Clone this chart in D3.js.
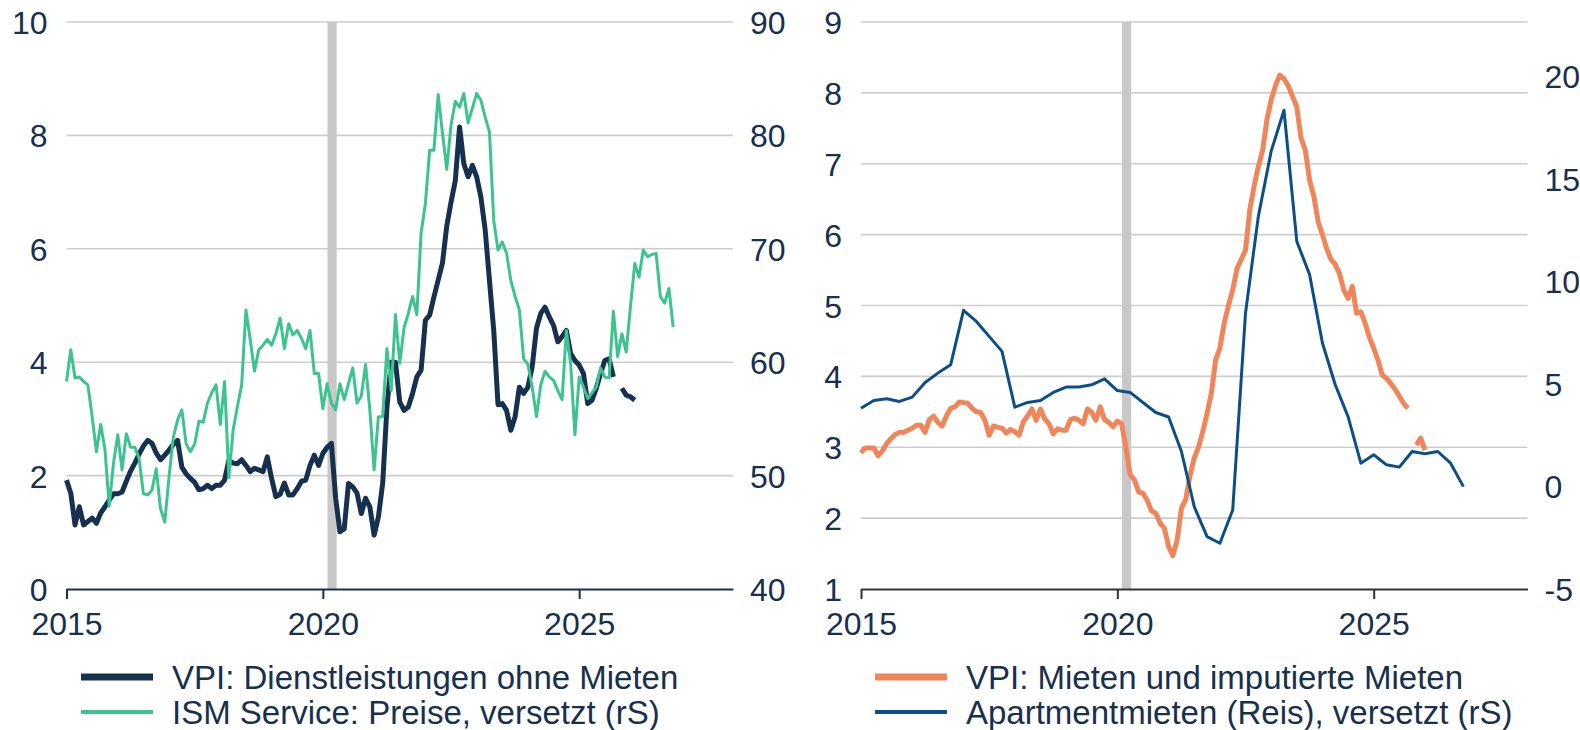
<!DOCTYPE html>
<meta charset="utf-8">
<style>
body { margin: 0; background: #fff; }
svg { font-family: "Liberation Sans", Arial, sans-serif; }
.tick text { fill: #17304e; font-size: 32px; }
.legend text { fill: #17304e; font-size: 33px; }
.grid line { stroke: #cdcdcd; stroke-width: 1.6; }
.line { fill: none; stroke-linejoin: round; }
</style>
<svg width="1580" height="730"></svg>
<script src="https://cdn.jsdelivr.net/npm/d3@7"></script>
<script>
// monatlich ab Jan 2015
var dienstleistungen = [
  1.92, 1.69, 1.13, 1.45, 1.13, 1.19, 1.25, 1.16, 1.34, 1.45, 1.57, 1.68,
  1.68, 1.71, 1.90, 2.08, 2.22, 2.38, 2.52, 2.62, 2.57, 2.40, 2.28, 2.36,
  2.45, 2.55, 2.62, 2.15, 2.03, 1.95, 1.88, 1.75, 1.77, 1.83, 1.77, 1.83,
  1.83, 1.92, 2.27, 2.22, 2.21, 2.28, 2.18, 2.07, 2.13, 2.10, 2.07, 2.33,
  1.95, 1.63, 1.67, 1.87, 1.66, 1.66, 1.77, 1.90, 1.92, 2.18, 2.36, 2.18,
  2.39, 2.50, 2.57, 1.60, 1.01, 1.06, 1.86, 1.80, 1.69, 1.33, 1.60, 1.45,
  0.95, 1.27, 1.86, 3.20, 4.00, 4.00, 3.30, 3.15, 3.21, 3.45, 3.74, 3.86,
  4.74, 4.83, 5.15, 5.45, 5.75, 6.40, 6.82, 7.20, 8.15, 7.50, 7.27, 7.47,
  7.27, 6.91, 6.33, 5.44, 4.56, 3.25, 3.27, 3.15, 2.80, 3.04, 3.56, 3.45,
  3.56, 3.92, 4.60, 4.86, 4.97, 4.80, 4.65, 4.36, 4.45, 4.56, 4.15, 4.03,
  3.95, 3.80, 3.27, 3.33, 3.54, 3.80, 4.03, 4.06, 3.74, null, 3.54, 3.42,
  3.39, 3.33
];
var ismPreise = [
  58.3, 61.1, 58.6, 58.7, 58.3, 58.0, 55.2, 52.1, 54.5, 52.3, 47.3, 51.1,
  53.6, 50.5, 53.7, 52.5, 52.5, 51.5, 48.4, 48.3, 48.7, 50.6, 47.1, 45.9,
  49.9, 53.4, 54.9, 55.8, 52.8, 52.1, 52.8, 54.8, 54.7, 56.4, 57.3, 58.0,
  54.5, 58.3, 49.8, 54.0, 56.1, 58.0, 64.6, 62.0, 59.2, 61.1, 61.5, 62.0,
  61.5, 62.5, 63.9, 61.2, 63.4, 62.4, 62.8, 62.1, 61.2, 62.8, 59.0, 59.0,
  55.9, 58.1, 56.4, 55.8, 58.1, 56.7, 58.1, 59.5, 56.4, 57.0, 59.8, 55.8,
  50.5, 55.2, 55.2, 61.2, 57.5, 64.2, 59.9, 63.0, 64.3, 65.8, 64.2, 71.4,
  74.0, 78.7, 78.7, 83.6, 80.2, 77.0, 80.9, 83.0, 82.5, 83.7, 81.1, 82.4,
  83.7, 83.1, 81.6, 80.3, 72.5, 69.9, 70.6, 69.6, 67.2, 65.8, 64.6, 60.3,
  59.8, 57.8, 55.2, 58.0, 59.2, 58.7, 58.4, 57.5, 56.7, 62.8, 59.9, 53.6,
  58.7, 57.8, 56.8, 57.3, 57.8, 59.5, 58.7, 58.6, 64.5, 60.5, 62.5, 60.9,
  64.9, 68.7, 67.5, 69.9, 69.3, 69.5, 69.6, 65.8, 65.2, 66.5, 63.1
];
var mieten = [
  2.92, 2.99, 2.99, 2.99, 2.88, 2.95, 3.05, 3.12, 3.18, 3.21, 3.21, 3.24,
  3.27, 3.31, 3.31, 3.21, 3.39, 3.44, 3.35, 3.30, 3.44, 3.55, 3.57, 3.64,
  3.63, 3.62, 3.55, 3.50, 3.49, 3.38, 3.17, 3.30, 3.28, 3.27, 3.20, 3.25,
  3.22, 3.17, 3.36, 3.44, 3.54, 3.38, 3.54, 3.40, 3.33, 3.19, 3.26, 3.24,
  3.24, 3.39, 3.41, 3.38, 3.33, 3.54, 3.49, 3.38, 3.57, 3.39, 3.35, 3.29,
  3.37, 3.33, 3.00, 2.61, 2.54, 2.37, 2.35, 2.25, 2.10, 2.07, 1.93, 1.86,
  1.60, 1.47, 1.69, 2.14, 2.26, 2.60, 2.85, 3.00, 3.22, 3.48, 3.76, 4.23,
  4.40, 4.75, 5.00, 5.22, 5.52, 5.65, 5.78, 6.35, 6.68, 6.96, 7.19, 7.62,
  7.90, 8.10, 8.25, 8.20, 8.10, 7.95, 7.80, 7.36, 7.19, 6.77, 6.54, 6.18,
  6.00, 5.80, 5.65, 5.58, 5.45, 5.22, 5.10, 5.27, 4.89, 4.91, 4.75, 4.55,
  4.40, 4.23, 4.02, 3.97, 3.90, 3.82, 3.72, 3.62, 3.55, null, 3.03, 3.13,
  2.96
];
// quartalsweise ab Q1 2015
var apartmentmieten = [
  3.81, 4.19, 4.27, 4.14, 4.35, 5.06, 5.52, 5.93, 8.58, 8.04, 7.31, 6.58,
  3.86, 4.09, 4.19, 4.58, 4.84, 4.84, 4.95, 5.24, 4.67, 4.58, 4.09, 3.60,
  3.38, 1.70, -0.99, -2.45, -2.77, -1.15, 8.45, 13.16, 16.33, 18.33, 11.94, 10.32,
  6.99, 4.95, 3.40, 1.13, 1.54, 1.05, 0.94, 1.70, 1.59, 1.70, 1.13, -0.01
];
var rezession = [2020.09, 2020.27];
var jahreTicks = [2015, 2020, 2025];
var linksTicks = [0, 2, 4, 6, 8, 10];
var ismTicks = [40, 50, 60, 70, 80, 90];
var mietenTicks = [1, 2, 3, 4, 5, 6, 7, 8, 9];
var reisTicks = [-5, 0, 5, 10, 15, 20];

var svg = d3.select("svg");
var top_ = 22, bottom = 589;
var plain = function(d) { return String(d); };

function panel(opt) {
  var g = svg.append("g");
  var x = d3.scaleLinear().domain([2015, 2028]).range([opt.left, opt.left + 666.5]);
  var yL = d3.scaleLinear().domain(opt.yL).range([bottom, top_]);
  var yR = d3.scaleLinear().domain(opt.yR).range([bottom, top_]);

  g.append("g").attr("class", "grid")
    .selectAll("line")
    .data(opt.ticksL.filter(function(d) { return d !== opt.yL[0]; }))
    .enter().append("line")
      .attr("x1", x.range()[0]).attr("x2", x.range()[1])
      .attr("y1", yL).attr("y2", yL);

  g.append("rect")
    .attr("x", x(rezession[0]))
    .attr("width", x(rezession[1]) - x(rezession[0]))
    .attr("y", top_).attr("height", bottom - top_)
    .attr("fill", "#c8c8c8");

  var ax = g.append("g")
    .attr("transform", "translate(0," + bottom + ")")
    .call(d3.axisBottom(x).tickValues(jahreTicks).tickFormat(plain)
      .tickSize(10).tickSizeOuter(0).tickPadding(13));
  ax.select(".domain").attr("stroke", opt.axisColor).attr("stroke-width", 2);
  ax.selectAll(".tick line").attr("stroke", opt.axisColor).attr("stroke-width", 2);

  var al = g.append("g")
    .attr("transform", "translate(" + x.range()[0] + ",0)")
    .call(d3.axisLeft(yL).tickValues(opt.ticksL).tickFormat(plain).tickSize(0).tickPadding(19));
  al.select(".domain").remove();
  al.selectAll(".tick text").attr("dy", "0.36em");

  var ar = g.append("g")
    .attr("transform", "translate(" + x.range()[1] + ",0)")
    .call(d3.axisRight(yR).tickValues(opt.ticksR).tickFormat(plain).tickSize(0).tickPadding(17));
  ar.select(".domain").remove();
  ar.selectAll(".tick text").attr("dy", "0.36em");

  opt.series.forEach(function(s) {
    var step = s.step;
    var line = d3.line()
      .defined(function(d) { return d != null; })
      .x(function(d, i) { return x(2015 + i * step); })
      .y(function(d) { return (s.axis === "r" ? yR : yL)(d); });
    g.append("path")
      .datum(s.values)
      .attr("class", "line")
      .attr("stroke", s.color)
      .attr("stroke-width", s.width)
      .attr("d", line);
  });

  var lg = g.append("g").attr("class", "legend");
  opt.series.forEach(function(s, i) {
    var yy = 677 + i * 35;
    lg.append("line")
      .attr("x1", opt.legendX).attr("x2", opt.legendX + 72)
      .attr("y1", yy).attr("y2", yy)
      .attr("stroke", s.color).attr("stroke-width", s.legendWidth);
    lg.append("text")
      .attr("x", opt.legendX + 91).attr("y", yy)
      .attr("dy", "0.35em")
      .text(s.name);
  });
}

panel({
  left: 66.5, yL: [0, 10], yR: [40, 90],
  ticksL: linksTicks, ticksR: ismTicks,
  axisColor: "#17304e", legendX: 81,
  series: [
    {name: "VPI: Dienstleistungen ohne Mieten", values: dienstleistungen, step: 1 / 12,
     axis: "l", color: "#15314f", width: 5, legendWidth: 7},
    {name: "ISM Service: Preise, versetzt (rS)", values: ismPreise, step: 1 / 12,
     axis: "r", color: "#3cc390", width: 3, legendWidth: 4}
  ]
});

panel({
  left: 861, yL: [1, 9], yR: [-5, 22.63],
  ticksL: mietenTicks, ticksR: reisTicks,
  axisColor: "#333333", legendX: 875,
  series: [
    {name: "VPI: Mieten und imputierte Mieten", values: mieten, step: 1 / 12,
     axis: "l", color: "#f0855a", width: 5, legendWidth: 7},
    {name: "Apartmentmieten (Reis), versetzt (rS)", values: apartmentmieten, step: 1 / 4,
     axis: "r", color: "#0c4e87", width: 3, legendWidth: 4}
  ]
});
</script>
